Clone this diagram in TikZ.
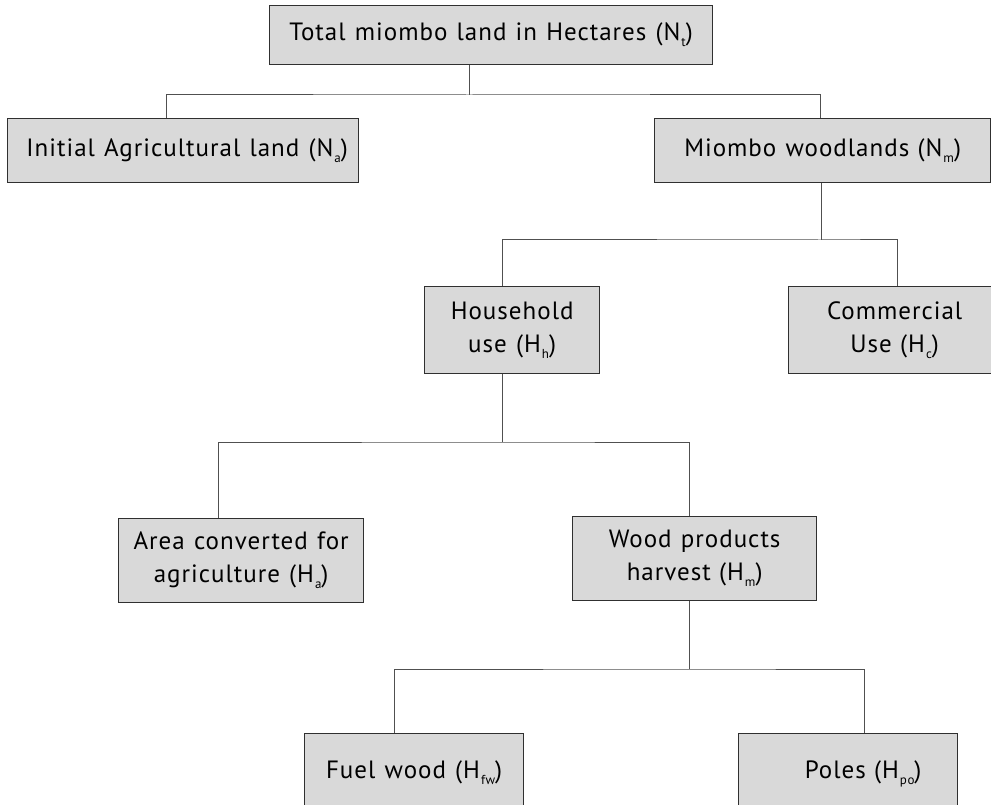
\documentclass[tikz,border=0pt]{standalone}
\usepackage{fontspec}
\setmainfont[LetterSpace=4,WordSpace=1.2]{PT Sans}
\definecolor{boxfill}{HTML}{D9D9D9}
\definecolor{boxline}{HTML}{303030}
\definecolor{linkcol}{HTML}{505050}
% small, lowered index letters
\newcommand\lowsub[1]{\kern1pt\raisebox{-6pt}{\fontsize{13}{13}\selectfont #1}}

\begin{document}
\begin{tikzpicture}[x=1pt,y=-1pt,
  box/.style={draw=boxline, fill=boxfill, line width=1.3pt, anchor=north west,
              inner sep=0pt, align=center, font=\fontsize{25}{33}\selectfont},
  openbox/.style={box, text height=45pt, text depth=70pt},
  link/.style={draw=linkcol, line width=1pt}]
\useasboundingbox (0,0) rectangle (991,805);
\clip (0,0) rectangle (991,805);

% boxes
\node[box, minimum width=443pt, minimum height=59pt] (nt) at (269,5)
  {Total miombo land in Hectares (N\lowsub{t})};
\node[box, minimum width=351pt, minimum height=64pt] (na) at (7,118)
  {\hspace*{8pt}Initial Agricultural land (N\lowsub{a})};
\node[box, minimum width=336pt, minimum height=64pt] (nm) at (654,118)
  {Miombo woodlands\,\,(N\lowsub{m})};
\node[box, minimum width=175pt, minimum height=87pt] (hh) at (424,286)
  {Household\\use (H\lowsub{h})};
\node[box, minimum width=212pt, minimum height=87pt] (hc) at (788,286)
  {Commercial\\Use\,\,(H\lowsub{c})};
\node[box, minimum width=245pt, minimum height=84pt] (ha) at (118,518)
  {Area converted for\\agriculture (H\lowsub{a})};
\node[box, minimum width=244pt, minimum height=84pt] (hm) at (572,516)
  {Wood products\\harvest\,\,(H\lowsub{m})};
\node[openbox, minimum width=219pt] (hfw) at (304,733)
  {Fuel wood (H\lowsub{fw})};
\node[openbox, minimum width=219pt] (hpo) at (738,733)
  {\hspace*{30pt}Poles\,\,(H\lowsub{po})};

% junction points of the tree
\coordinate (j1) at (469,95);
\coordinate (j2) at (821,240);
\coordinate (j3) at (502,442);
\coordinate (j4) at (689,669);

% connectors
\draw[link] (nt.south -| j1) -- (j1);
\draw[link] ([xshift=-16.5pt]na.north) |- (j1) -| ([xshift=-2pt]nm.north);

\draw[link] (nm.south -| j2) -- (j2);
\draw[link] ([xshift=-9.5pt]hh.north) |- (j2) -| ([xshift=3pt]hc.north);

\draw[link] (hh.south -| j3) -- (j3);
\draw[link] ([xshift=-22.5pt]ha.north) |- (j3) -| ([xshift=-5pt]hm.north);

\draw[link] (hm.south -| j4) -- (j4);
\draw[link] ([xshift=-19.5pt]hfw.north) |- (j4) -| ([xshift=16pt]hpo.north);
\end{tikzpicture}
\end{document}
